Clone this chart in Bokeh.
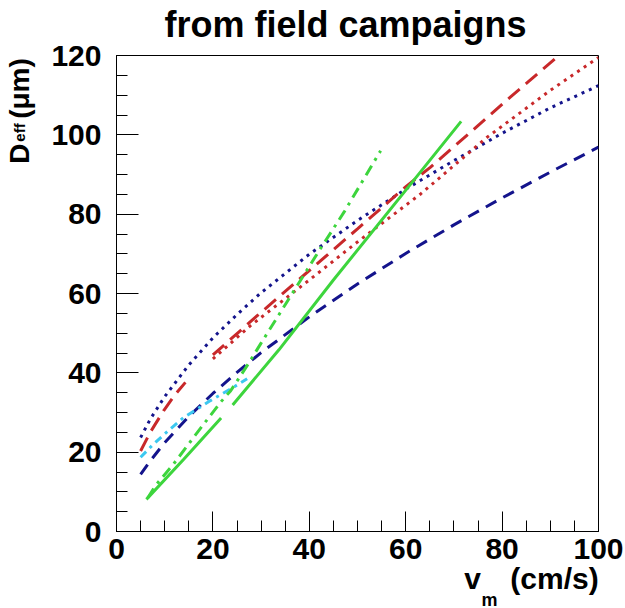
from bokeh.plotting import figure
from bokeh.models import Range1d, SingleIntervalTicker, LinearAxis, FixedTicker
from bokeh.embed import file_html
from bokeh.resources import INLINE

# ---------------- data ----------------
navy_dot_x = [5, 7, 10, 15, 20, 25, 30, 40, 50, 60, 70, 80, 90, 100]
navy_dot_y = [23.7, 28.3, 34.0, 42.0, 48.8, 54.7, 60.2, 69.9, 78.4, 86.3, 93.5, 100.4, 106.8, 112.4]

navy_dash_x = [5, 7, 10, 15, 20, 25, 30, 40, 50, 60, 70, 80, 90, 100]
navy_dash_y = [14.4, 17.8, 22.4, 29.0, 34.8, 40.1, 45.1, 54.1, 62.4, 70.1, 77.3, 84.1, 90.6, 96.9]

red_dash1_x = [5, 7, 9.8, 12, 14.3]
red_dash1_y = [20.3, 25.0, 30.5, 34.3, 37.6]
red_dash2_x = [20, 29.2, 40, 50, 60.3, 65.1, 70, 81.7, 91.8]
red_dash2_y = [44.5, 54.4, 65.8, 76.3, 87.2, 91.8, 97.0, 109.5, 120.0]

red_dot_x = [20, 27.8, 40, 50, 63.1, 76.9, 90, 100]
red_dot_y = [43.5, 51.9, 63.4, 73.0, 85.1, 99.4, 111.2, 119.5]

cyan_x = [5, 7.4, 10, 14, 19.5, 24.3, 27.1]
cyan_y = [18.7, 21.7, 24.6, 28.8, 33.0, 36.4, 38.5]

green_solid1_x = [6.2, 14, 21.7]
green_solid1_y = [8.1, 18.3, 28.6]
green_solid2_x = [24.1, 33.7, 45, 62.7, 71.5]
green_solid2_y = [31.9, 45.8, 63.4, 90.1, 103.4]

green_dd_x = [6.5, 8.1, 11.9, 17.1, 21.6, 23.7, 27.1, 29.9, 37.5, 42.3, 47.2, 54.8]
green_dd_y = [8.5, 11.6, 17.1, 25.5, 32.6, 35.5, 41.8, 47.3, 62.0, 71.3, 80.5, 96.0]

x_tick_interval = 20
y_tick_interval = 20

TITLE = "from field campaigns"
Y_TITLE_MAIN = ["D", "(\u03bcm)"]
Y_TITLE_SUB = ["eff"]
X_TITLE_MAIN = ["v", "(cm/s)"]
X_TITLE_SUB = ["m"]

# ---------------- layout (page pixels) ----------------
FL, FW, FT, FH, FR, FB = 116, 482, 55, 476, 26, 76
X0, X1, Y0, Y1 = 0, 100, 0, 120

p = figure(frame_width=FW, frame_height=FH,
           min_border_left=FL, min_border_right=FR,
           min_border_top=FT, min_border_bottom=FB,
           x_range=Range1d(X0, X1), y_range=Range1d(Y0, Y1),
           title_location=None,
           output_backend="svg", toolbar_location=None)
p.background_fill_color = "white"
p.border_fill_color = "white"
p.outline_line_color = "black"
p.outline_line_width = 1
p.xgrid.visible = False
p.ygrid.visible = False

p.xaxis.ticker = SingleIntervalTicker(interval=x_tick_interval, num_minor_ticks=4)
p.yaxis.ticker = SingleIntervalTicker(interval=y_tick_interval, num_minor_ticks=4)
for ax, maj in ((p.xaxis, 20), (p.yaxis, 22)):
    ax.major_tick_in = maj
    ax.major_tick_out = 0
    ax.minor_tick_in = 11
    ax.minor_tick_out = 0
    ax.major_tick_line_color = "black"
    ax.minor_tick_line_color = "black"
    ax.axis_line_color = "black"
    ax.major_label_text_font = "Liberation Sans"
    ax.major_label_text_font_style = "bold"
    ax.major_label_text_font_size = "30px"
    ax.major_label_text_color = "black"
p.xaxis.major_label_standoff = 7
p.yaxis.major_label_standoff = 15

NAVY = "#14148c"
RED = "#c8282a"
CYAN = "#3cc8f0"
GREEN = "#3dd53d"
LW = 3

p.line(navy_dot_x, navy_dot_y, line_color=NAVY, line_width=LW, line_dash="3 5")
p.line(navy_dash_x, navy_dash_y, line_color=NAVY, line_width=LW, line_dash="12 8")
p.line(red_dash1_x, red_dash1_y, line_color=RED, line_width=LW, line_dash="15 8")
p.line(red_dash2_x, red_dash2_y, line_color=RED, line_width=LW, line_dash="15 8")
p.line(red_dot_x, red_dot_y, line_color=RED, line_width=LW, line_dash="3 5")
p.line(cyan_x, cyan_y, line_color=CYAN, line_width=LW, line_dash="8 5 3 5")
p.line(green_dd_x, green_dd_y, line_color=GREEN, line_width=LW, line_dash="11 6 3 6")
p.line(green_solid1_x, green_solid1_y, line_color=GREEN, line_width=LW)
p.line(green_solid2_x, green_solid2_y, line_color=GREEN, line_width=LW)


# page pixel -> data helpers (used only to place text pieces)
def dx(px):
    return round(X0 + (px - FL) * (X1 - X0) / FW, 2)


def dy(py):
    return round(Y0 + (FT + FH - py) * (Y1 - Y0) / FH, 2)


def text_axis(side, positions, texts, size, standoff, font="Liberation Sans"):
    ax = LinearAxis(ticker=FixedTicker(ticks=positions, minor_ticks=[]),
                    major_label_overrides=dict(zip(positions, texts)),
                    major_label_standoff=standoff,
                    axis_line_color=None,
                    major_tick_line_color=None, minor_tick_line_color=None,
                    major_tick_in=0, major_tick_out=0,
                    minor_tick_in=0, minor_tick_out=0,
                    major_label_text_font=font,
                    major_label_text_font_style="bold",
                    major_label_text_font_size=size,
                    major_label_text_color="black")
    if side in ("left", "right"):
        ax.major_label_orientation = "parallel"
    p.add_layout(ax, side)
    return ax


# title (centred at x=345 px)
text_axis("above", [dx(345)], [TITLE], "36px", 11)

# y-axis title: "D" and "(um)" then the subscript "eff"
text_axis("left", [dy(153), dy(88)], Y_TITLE_MAIN, "28px", 13)
text_axis("left", [dy(132)], Y_TITLE_SUB, "15px", -27)

# x-axis title: "v" and "(cm/s)" then the subscript "m"
text_axis("below", [dx(472), dx(554)], X_TITLE_MAIN, "30px", 0)
text_axis("below", [dx(489)], X_TITLE_SUB, "18px", -8)

open("out.html", "w").write(file_html(p, INLINE))
